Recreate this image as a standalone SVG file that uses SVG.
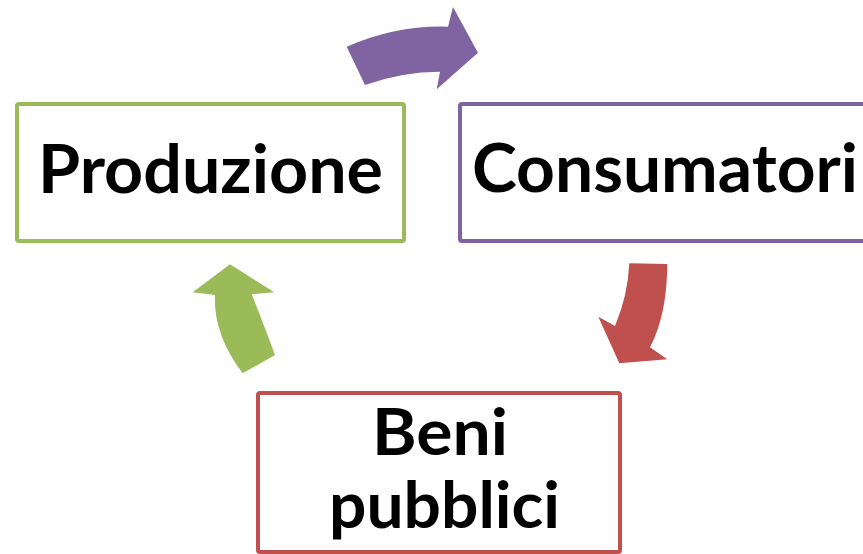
<svg xmlns="http://www.w3.org/2000/svg" width="863" height="554" viewBox="0 0 863 554">
<style>
.box{fill:#fff;stroke-width:4}
.lbl{font-family:Lato,"Open Sans","Liberation Sans",sans-serif;font-weight:bold;font-size:67px;fill:#000}
.sm{font-size:65px}
</style>
<rect width="863" height="554" fill="#fff"/>
<g id="connectors">
<path id="arrow-prod-cons" fill="#8064A2" d="M346.7,46.7 Q397,25 448,26.7 L453,7 L478,52.7 L436.7,89.3 L440,71.7 Q402.5,71.7 365,85 Z"/>
<path id="arrow-cons-beni" fill="#C0504D" d="M629.3,263.3 L667.3,264 Q667,315 650,347.3 L667.3,359.3 L619.3,363.3 L598.3,316.7 L615,326 Q628,295 629.3,263.3 Z"/>
<path id="arrow-beni-prod" fill="#9BBB59" d="M230,264.3 L274.3,292.3 L251.7,294.3 Q262,320 275,355 L242.7,373.3 Q213,334 215,295 L192.7,292.3 Z"/>
</g>
<g id="produzione">
<rect class="box" x="17" y="104" width="387" height="137" rx="2" stroke="#9BBB59"/>
<text class="lbl" x="38" y="193" textLength="345" lengthAdjust="spacingAndGlyphs">Produzione</text>
</g>
<g id="consumatori">
<rect class="box" x="460" y="104" width="420" height="137" rx="2" stroke="#8064A2"/>
<text class="lbl" x="472" y="192" textLength="386" lengthAdjust="spacingAndGlyphs">Consumatori</text>
</g>
<g id="beni-pubblici">
<rect class="box" x="258" y="393" width="362" height="159" rx="2" stroke="#C0504D"/>
<text class="lbl sm" x="372" y="455" textLength="136" lengthAdjust="spacingAndGlyphs">Beni</text>
<text class="lbl sm" x="329" y="528" textLength="231" lengthAdjust="spacingAndGlyphs">pubblici</text>
</g>
</svg>
